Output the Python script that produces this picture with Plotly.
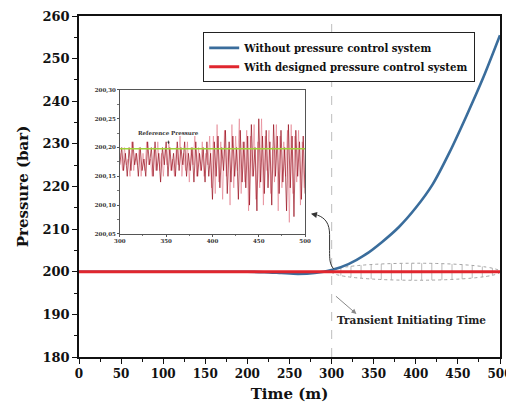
import plotly.graph_objects as go
import math

# ---------------- data ----------------
time_blue = [0, 50, 100, 150, 200, 220, 240, 260, 280, 300, 320, 340, 360, 380, 400, 420, 440, 460, 480, 500]
p_without = [200, 200, 200, 200, 200, 199.9, 199.7, 199.5, 199.7, 200.4, 201.8, 204.0, 207.0, 210.5, 215.0, 220.5, 228.0, 236.5, 245.5, 255.5]

time_red = [0, 100, 200, 300, 400, 500]
p_with = [200, 200, 200, 200, 200, 200]

inset_t_dark = list(range(300, 501, 2))
inset_p_dark = [
    200.17, 200.20, 200.16, 200.19, 200.15, 200.20, 200.16, 200.21, 200.17, 200.19,
    200.15, 200.20, 200.16, 200.18, 200.15, 200.21, 200.17, 200.20, 200.15, 200.21,
    200.16, 200.19, 200.14, 200.20, 200.17, 200.21, 200.15, 200.20, 200.16, 200.19,
    200.15, 200.21, 200.16, 200.20, 200.17, 200.21, 200.15, 200.19, 200.16, 200.20,
    200.14, 200.21, 200.15, 200.19, 200.16, 200.20, 200.14, 200.21, 200.15, 200.19,
    200.11, 200.21, 200.15, 200.22, 200.13, 200.20, 200.16, 200.23, 200.12, 200.21,
    200.14, 200.22, 200.15, 200.20, 200.11, 200.23, 200.14, 200.21, 200.13, 200.22,
    200.10, 200.24, 200.15, 200.20, 200.09, 200.25, 200.14, 200.22, 200.12, 200.23,
    200.13, 200.21, 200.10, 200.24, 200.15, 200.22, 200.12, 200.23, 200.14, 200.20,
    200.09, 200.24, 200.13, 200.22, 200.08, 200.23, 200.15, 200.21, 200.11, 200.22,
    200.12,
]

inset_t_light = list(range(301, 500, 2))
inset_p_light = [
    200.19, 200.16, 200.20, 200.17, 200.18, 200.15, 200.21, 200.16, 200.19, 200.17,
    200.20, 200.15, 200.19, 200.16, 200.21, 200.17, 200.18, 200.15, 200.20, 200.16,
    200.21, 200.16, 200.19, 200.15, 200.20, 200.17, 200.21, 200.16, 200.18, 200.15,
    200.20, 200.17, 200.22, 200.15, 200.19, 200.16, 200.21, 200.14, 200.20, 200.17,
    200.22, 200.15, 200.20, 200.16, 200.21, 200.15, 200.19, 200.17, 200.22, 200.13,
    200.22, 200.12, 200.24, 200.14, 200.21, 200.11, 200.23, 200.15, 200.20, 200.10,
    200.24, 200.13, 200.22, 200.16, 200.25, 200.12, 200.21, 200.14, 200.23, 200.09,
    200.22, 200.15, 200.24, 200.11, 200.21, 200.13, 200.25, 200.10, 200.22, 200.16,
    200.23, 200.12, 200.20, 200.14, 200.24, 200.09, 200.22, 200.13, 200.21, 200.15,
    200.23, 200.07, 200.24, 200.12, 200.22, 200.14, 200.23, 200.10, 200.21, 200.13,
]

reference_pressure = 200.198
inset_ytick_vals = [200.05, 200.10, 200.15, 200.20, 200.25, 200.30]
inset_ytick_text = ["200,05", "200,10", "200,15", "200,20", "200,25", "200,30"]

FONT = "DejaVu Serif"

fig = go.Figure()

# inset traces
fig.add_trace(go.Scatter(x=inset_t_light, y=inset_p_light, mode="lines",
                         line=dict(color="rgba(225,110,125,0.65)", width=0.8),
                         xaxis="x2", yaxis="y2", showlegend=False, hoverinfo="skip"))
fig.add_trace(go.Scatter(x=inset_t_dark, y=inset_p_dark, mode="lines",
                         line=dict(color="rgba(150,10,25,0.85)", width=0.8),
                         xaxis="x2", yaxis="y2", showlegend=False, hoverinfo="skip"))
fig.add_trace(go.Scatter(x=[300, 500], y=[reference_pressure, reference_pressure], mode="lines",
                         line=dict(color="#9fd13a", width=1.5),
                         xaxis="x2", yaxis="y2", showlegend=False, hoverinfo="skip"))

# main traces
fig.add_trace(go.Scatter(x=time_blue, y=p_without, mode="lines", name="Without pressure control system",
                         line=dict(color="#3a6d9c", width=2.6, shape="spline", smoothing=0.8)))
fig.add_trace(go.Scatter(x=time_red, y=p_with, mode="lines", name="With designed pressure control system",
                         line=dict(color="#e0262e", width=3)))

shapes = []
# vertical dashed line
shapes.append(dict(type="line", xref="x", yref="y", x0=300, x1=300, y0=180, y1=260,
                   line=dict(color="#c8c8c8", width=1.2, dash="dash"), layer="below"))
# ellipse
shapes.append(dict(type="circle", xref="x", yref="y", x0=300, x1=500, y0=198, y1=202,
                   line=dict(color="#999999", width=0.9, dash="dot"), layer="below"))
for hx in range(311, 500, 12):
    half = 2 * math.sqrt(max(0.0, 1 - ((hx - 400) / 100) ** 2))
    shapes.append(dict(type="line", xref="x", yref="y", x0=hx, x1=hx, y0=200 - half, y1=200 + half,
                       line=dict(color="#a8a8a8", width=0.8), layer="below"))
# curved arrow path
shapes.append(dict(type="path", xref="x", yref="y",
                   path="M 302.4,200.7 C 297.6,201.8 297.6,203 297.6,205 L 297.6,208.7 C 297.6,211.2 293,212.6 283,213.3",
                   line=dict(color="#333333", width=1)))

annotations = [
    dict(x=275.5, y=213.6, xref="x", yref="y", ax=283, ay=213.3, axref="x", ayref="y",
         text="", showarrow=True, arrowhead=2, arrowsize=1.2, arrowwidth=1, arrowcolor="#333333"),
    dict(x=329.5, y=190.1, xref="x", yref="y", ax=-22, ay=-19, text="", showarrow=True,
         arrowhead=2, arrowsize=1, arrowwidth=1, arrowcolor="#888888"),
    dict(x=394.7, y=188.7, xref="x", yref="y", text="Transient Initiating Time", showarrow=False,
         font=dict(family=FONT, size=10.5, color="#222222", weight="bold")),
    dict(x=352.7, y=200.226, xref="x2", yref="y2", text="Reference Pressure", showarrow=False,
         font=dict(family=FONT, size=5.5, color="#333333", weight="bold")),
    dict(x=352.5, y=200.206, xref="x2", yref="y2", ax=0, ay=-5, text="", showarrow=True,
         arrowhead=2, arrowsize=0.6, arrowwidth=0.8, arrowcolor="#333333"),
]

# page body has an 8px margin, so the figure is 8px smaller than the window
fig.update_layout(
    width=506, height=404,
    margin=dict(l=71, r=14, t=8, b=55, autoexpand=False),
    paper_bgcolor="white", plot_bgcolor="white",
    font=dict(family=FONT, color="#111111"),
    shapes=shapes, annotations=annotations,
    legend=dict(x=0.295, y=0.952, xanchor="left", yanchor="top",
                bordercolor="#222222", borderwidth=1, bgcolor="white",
                font=dict(family=FONT, size=10.2, color="#111111", weight="bold"),
                tracegroupgap=0, itemwidth=30),
    xaxis=dict(domain=[0, 1], range=[0, 500], dtick=50, tick0=0, automargin=False,
               ticklabeloverflow="allow",
               showline=True, mirror=True, linecolor="#111111", linewidth=1.5,
               ticks="outside", ticklen=5, tickwidth=1.2, tickcolor="#111111",
               minor=dict(ticks="outside", ticklen=3, dtick=25, tickcolor="#111111"),
               showgrid=False, zeroline=False,
               tickfont=dict(family=FONT, size=12, weight="bold"),
               title=dict(text="Time (m)", font=dict(family=FONT, size=15, weight="bold"), standoff=8)),
    yaxis=dict(domain=[0, 1], range=[180, 260], dtick=10, tick0=180, automargin=False,
               ticklabeloverflow="allow",
               showline=True, mirror=True, linecolor="#111111", linewidth=1.5,
               ticks="outside", ticklen=5, tickwidth=1.2, tickcolor="#111111",
               minor=dict(ticks="outside", ticklen=3, dtick=5, tickcolor="#111111"),
               showgrid=False, zeroline=False,
               tickfont=dict(family=FONT, size=13, weight="bold"),
               title=dict(text="Pressure (bar)", font=dict(family=FONT, size=15, weight="bold"), standoff=10)),
    xaxis2=dict(domain=[0.097, 0.537], anchor="y2", range=[300, 500], dtick=50, automargin=False,
                showline=True, mirror=True, linecolor="#555555", linewidth=0.8,
                ticks="outside", ticklen=2, tickwidth=0.6, tickcolor="#555555",
                minor=dict(ticks="outside", ticklen=1.5, dtick=25, tickcolor="#777777"),
                showgrid=False, zeroline=False,
                tickfont=dict(family=FONT, size=5.5, color="#333333", weight="bold")),
    yaxis2=dict(domain=[0.361, 0.783], anchor="x2", range=[200.05, 200.30], automargin=False,
                tickvals=inset_ytick_vals, ticktext=inset_ytick_text,
                showline=True, mirror=True, linecolor="#555555", linewidth=0.8,
                ticks="outside", ticklen=2, tickwidth=0.6, tickcolor="#555555",
                minor=dict(ticks="outside", ticklen=1.5, dtick=0.025, tickcolor="#777777"),
                showgrid=False, zeroline=False,
                tickfont=dict(family=FONT, size=5.5, color="#333333", weight="bold")),
)

fig.write_html("out.html")
